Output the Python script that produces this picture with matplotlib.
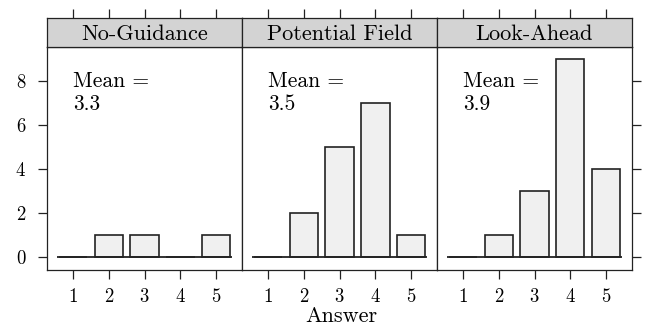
import numpy as np
import matplotlib
matplotlib.use("Agg")
import matplotlib.pyplot as plt

plt.rcParams['font.family'] = 'serif'
plt.rcParams['font.serif'] = ['cmr10']
plt.rcParams['mathtext.fontset'] = 'cm'
plt.rcParams['axes.formatter.use_mathtext'] = True

# data
answers = [1, 2, 3, 4, 5]
panels = ['No-Guidance', 'Potential Field', 'Look-Ahead']
counts_no_guidance = [0, 1, 1, 0, 1]
counts_potential = [0, 2, 5, 7, 1]
counts_lookahead = [0, 1, 3, 9, 4]
means = ['3.3', '3.5', '3.9']
counts = [counts_no_guidance, counts_potential, counts_lookahead]

W, H = 647, 332
fig = plt.figure(figsize=(W / 100, H / 100), dpi=100)

left, right = 47, 632
pw = (right - left) / 3
ptop, pbot = 47, 270
stop = 18
edge = '#222222'

for i, name in enumerate(panels):
    x0 = left + i * pw
    ax = fig.add_axes([x0 / W, 1 - pbot / H, pw / W, (pbot - ptop) / H])
    st = fig.add_axes([x0 / W, 1 - ptop / H, pw / W, (ptop - stop) / H])

    # baseline under all answer slots
    ax.hlines(0, min(answers) - 0.45, max(answers) + 0.45, color=edge, linewidth=1.3, zorder=3)
    ax.bar(answers, counts[i], width=0.8, color='#f0f0f0', edgecolor=edge, linewidth=1.2)
    ax.set_xlim(0.27, 5.73)
    ax.set_ylim(-0.6, 9.55)
    ax.set_xticks(answers)
    ax.set_yticks([0, 2, 4, 6, 8])
    ax.tick_params(axis='x', direction='out', length=6.5, width=0.9, pad=6.5, labelsize=13.5, color=edge)
    ax.tick_params(axis='y', direction='out', length=6.5, width=0.9, pad=8.5, labelsize=13.5, color=edge)
    if i == 0:
        ax.tick_params(axis='y', left=True, labelleft=True, right=False)
    elif i == 2:
        ax.tick_params(axis='y', left=False, labelleft=False, right=True, labelright=False)
    else:
        ax.tick_params(axis='y', left=False, labelleft=False)
    for s in ax.spines.values():
        s.set_color(edge)
        s.set_linewidth(0.9)
    ax.text(1.0, 8.45, 'Mean =\n' + means[i], ha='left', va='top', fontsize=15.5,
            linespacing=1.25)

    st.set_facecolor('#d3d3d3')
    st.set_xlim(0.27, 5.73)
    st.set_ylim(0, 1)
    st.set_yticks([])
    st.set_xticks(answers)
    st.tick_params(axis='x', bottom=False, labelbottom=False, top=True, direction='out',
                   length=6.5, width=0.9, color=edge)
    for s in st.spines.values():
        s.set_color(edge)
        s.set_linewidth(0.9)
    st.text(3, 0.45, name, ha='center', va='center', fontsize=16)

fig.text(341 / W, 1 - 322 / H, 'Answer', ha='center', va='baseline', fontsize=16)

fig.savefig('out.png', dpi=100)
